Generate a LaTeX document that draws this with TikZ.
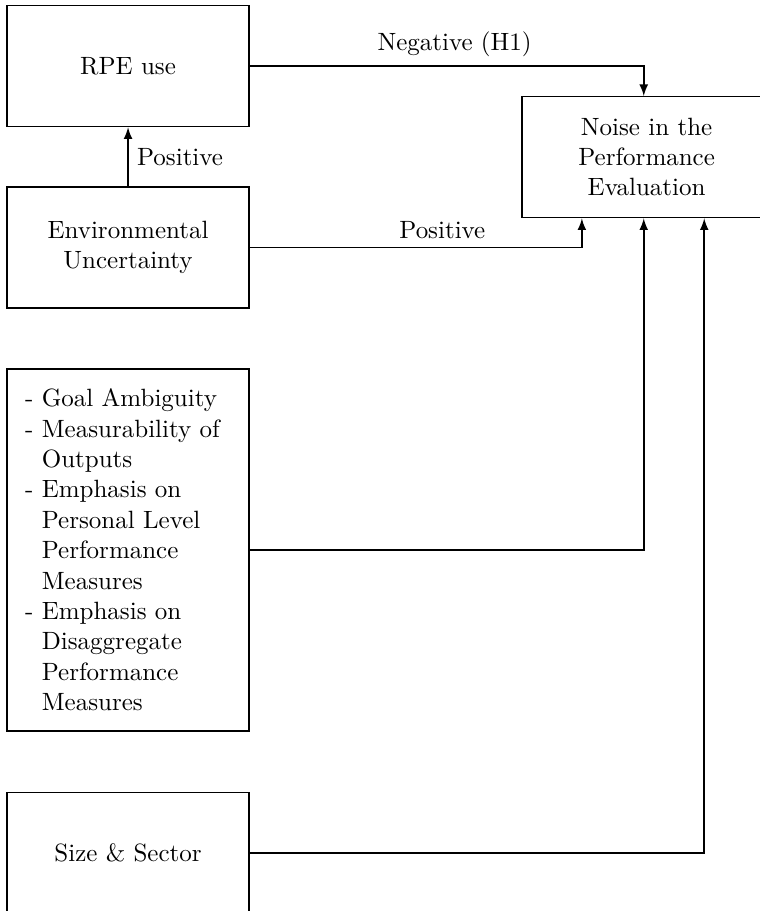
\documentclass[tikz,border=0pt]{standalone}
\usepackage{tikz}
\newcommand{\dashgap}{\hphantom{-}\ }

\begin{document}
\begin{tikzpicture}[semithick,
  box/.style={draw, minimum width=3.4cm, minimum height=1.7cm, align=center}]
  \useasboundingbox (0,0) rectangle (10.67,-12.807);
  \node[box] (RPE) at (1.80,-0.93) {RPE use};
  \node[box] (EU) at (1.80,-3.48) {Environmental\\Uncertainty};
  \node[box, minimum height=5.09cm, inner xsep=7.2pt, text width=82.3pt, align=left,
    font=\linespread{1.012}\selectfont] (GA) at (1.80,-7.73)
    {- Goal Ambiguity\\
     - Measurability of\\
     \dashgap Outputs\\
     - Emphasis on\\
     \dashgap Personal Level\\
     \dashgap Performance\\
     \dashgap Measures\\
     - Emphasis on\\
     \dashgap Disaggregate\\
     \dashgap Performance\\
     \dashgap Measures};
  \node[box, minimum width=3.5cm] (N) at (9.09,-2.21) {Noise in the\\Performance\\Evaluation};
  \node[box] (SS) at (1.80,-11.99) {Size \& Sector};
  \draw[-latex] (EU) -- node[right] {Positive} (RPE);
  \draw[-latex] (RPE) -| node[pos=0.26,above] {Negative (H1)} ([xshift=-0.04cm]N.north);
  \draw[-latex] (EU) -| node[pos=0.29,above] {Positive} ([xshift=-0.91cm]N.south);
  \draw[-latex] (GA) -| ([xshift=-0.04cm]N.south);
  \draw[-latex] (SS) -| ([xshift=0.81cm]N.south);
\end{tikzpicture}
\end{document}
